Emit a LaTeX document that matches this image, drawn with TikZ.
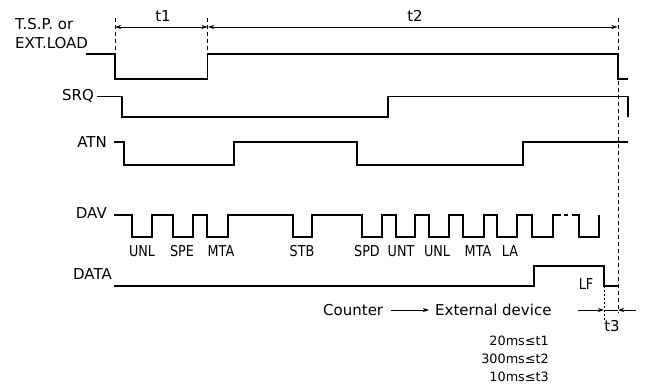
\documentclass[tikz,border=0pt]{standalone}
\usepackage{fontspec}
\setmainfont{DejaVu Sans}
\usetikzlibrary{arrows.meta}
\tikzset{
  sig/.style={line width=1.1pt, line join=miter},
  guide/.style={line width=0.8pt, dash pattern=on 4pt off 3pt},
  dotguide/.style={line width=0.8pt, dash pattern=on 2pt off 2pt},
  dim/.style={line width=0.8pt, -{Stealth[length=6pt,width=4pt]}},
  lbl/.style={font=\fontsize{15}{17}\selectfont, inner sep=0pt},
  small/.style={font=\fontsize{15}{17}\selectfont, inner sep=0pt},
  cond/.style={font=\fontsize{12.8}{15}\selectfont, inner sep=0pt, anchor=east},
}
\newcommand{\nar}[1]{\scalebox{0.85}[1]{#1}}
\begin{document}
\begin{tikzpicture}[x=1pt,y=-1pt]
\useasboundingbox (0,0) rectangle (652,387);
% signal names
\node[lbl, anchor=west] (tsp1) at (15,24) {T.S.P. or};
\node[lbl, anchor=west] (tsp2) at (15,43) {EXT.LOAD};
\node[lbl, anchor=east] (srq) at (94,96) {SRQ};
\node[lbl, anchor=east] (atn) at (107,142) {ATN};
\node[lbl, anchor=east] (dav) at (107,213) {DAV};
\node[lbl, anchor=west] (data) at (73,274) {DATA};
% waveforms
\draw[sig] (86,54) -- (115,54) -- (115,79) -- (207.5,79) -- (207.5,54) -- (618,54) -- (618,79) -- (628,79);
\draw[sig] (97,96.5) -- (122,96.5) -- (122,117) -- (388,117) -- (388,96.5) -- (628,96.5) -- (628,117);
\draw[sig] (114,142) -- (124,142) -- (124,165) -- (234,165) -- (234,142) -- (357,142) -- (357,165) -- (523,165) -- (523,142) -- (628,142);
\draw[sig] (114,215) -- (132,215) -- (132,237) -- (152,237) -- (152,215) -- (173,215) -- (173,237) -- (193,237) -- (193,215)
  -- (207,215) -- (207,237) -- (228,237) -- (228,215) -- (293,215) -- (293,237) -- (312,237) -- (312,215)
  -- (362,215) -- (362,237) -- (382,237) -- (382,215) -- (396,215) -- (396,237) -- (415,237) -- (415,215)
  -- (429,215) -- (429,237) -- (449,237) -- (449,215) -- (463,215) -- (463,237) -- (484,237) -- (484,215)
  -- (497,215) -- (497,237) -- (517,237) -- (517,215) -- (532,215) -- (532,237) -- (553,237) -- (553,215) -- (561,215);
\draw[sig] (564,215) -- (568,215);
\draw[sig] (572,215) -- (579,215) -- (579,237) -- (599,237) -- (599,215);
\draw[sig] (114,286) -- (534,286) -- (534,266) -- (604,266) -- (604,286) -- (618,286);
% DAV labels
\node[lbl] (l1) at (142,251) {\nar{UNL}};
\node[lbl] (l2) at (182,251) {\nar{SPE}};
\node[lbl] (l3) at (221,251) {\nar{MTA}};
\node[lbl] (l4) at (302,251) {\nar{STB}};
\node[lbl] (l5) at (367,251) {\nar{SPD}};
\node[lbl] (l6) at (401,251) {\nar{UNT}};
\node[lbl] (l7) at (437,251) {\nar{UNL}};
\node[lbl] (l8) at (478,251) {\nar{MTA}};
\node[lbl] (l9) at (510,251) {\nar{LA}};
\node[lbl] (lf) at (586,284) {\nar{LF}};
% guide lines
\coordinate (g1t) at (115,18); \coordinate (g1b) at (115,54);
\coordinate (g2t) at (207.5,18); \coordinate (g2b) at (207.5,54);
\coordinate (g3t) at (618,18); \coordinate (g3b) at (618,313);
\coordinate (g4t) at (604,286); \coordinate (g4b) at (604,321);
\draw[guide] (g1t) -- (g1b);
\draw[guide] (g2t) -- (g2b);
\draw[guide] (g3t) -- (g3b);
\draw[dotguide] (g4t) -- (g4b);
% t1, t2
\coordinate (a1) at (115,27); \coordinate (a2) at (207.5,27); \coordinate (a3) at (618,27);
\coordinate (am) at (161,27);
\draw[dim] (am) -- (a1);
\draw[dim] (am) -- (a2);
\coordinate (bm) at (400,27);
\draw[dim] (bm) -- ([xshift=0.5pt]a2);
\draw[dim] (bm) -- ([xshift=-0.5pt]a3);
\node[lbl] (t1) at (163,16) {t1};
\node[lbl] (t2) at (415,16) {t2};
% t3
\coordinate (c1) at (578,310); \coordinate (c2) at (604,310);
\coordinate (c3) at (636,310); \coordinate (c4) at (618,310);
\draw[dim] (c1) -- (c2);
\draw[dim] (c3) -- (c4);
\draw[line width=0.8pt] (c2) -- (c4);
\node[lbl] (t3) at (612,326) {t3};
% legend
\node[small, anchor=west] (cnt) at (323,310) {Counter};
\node[small, anchor=west] (ext) at (435,310) {External device};
\draw[line width=0.8pt, -{Stealth[length=6pt,width=4pt]}] ([xshift=8pt]cnt.east) -- ([xshift=-6pt]ext.west);
\node[cond] (k1) at (549,341) {20ms≤t1};
\node[cond] (k2) at (549,359) {300ms≤t2};
\node[cond] (k3) at (549,377) {10ms≤t3};
\end{tikzpicture}
\end{document}
